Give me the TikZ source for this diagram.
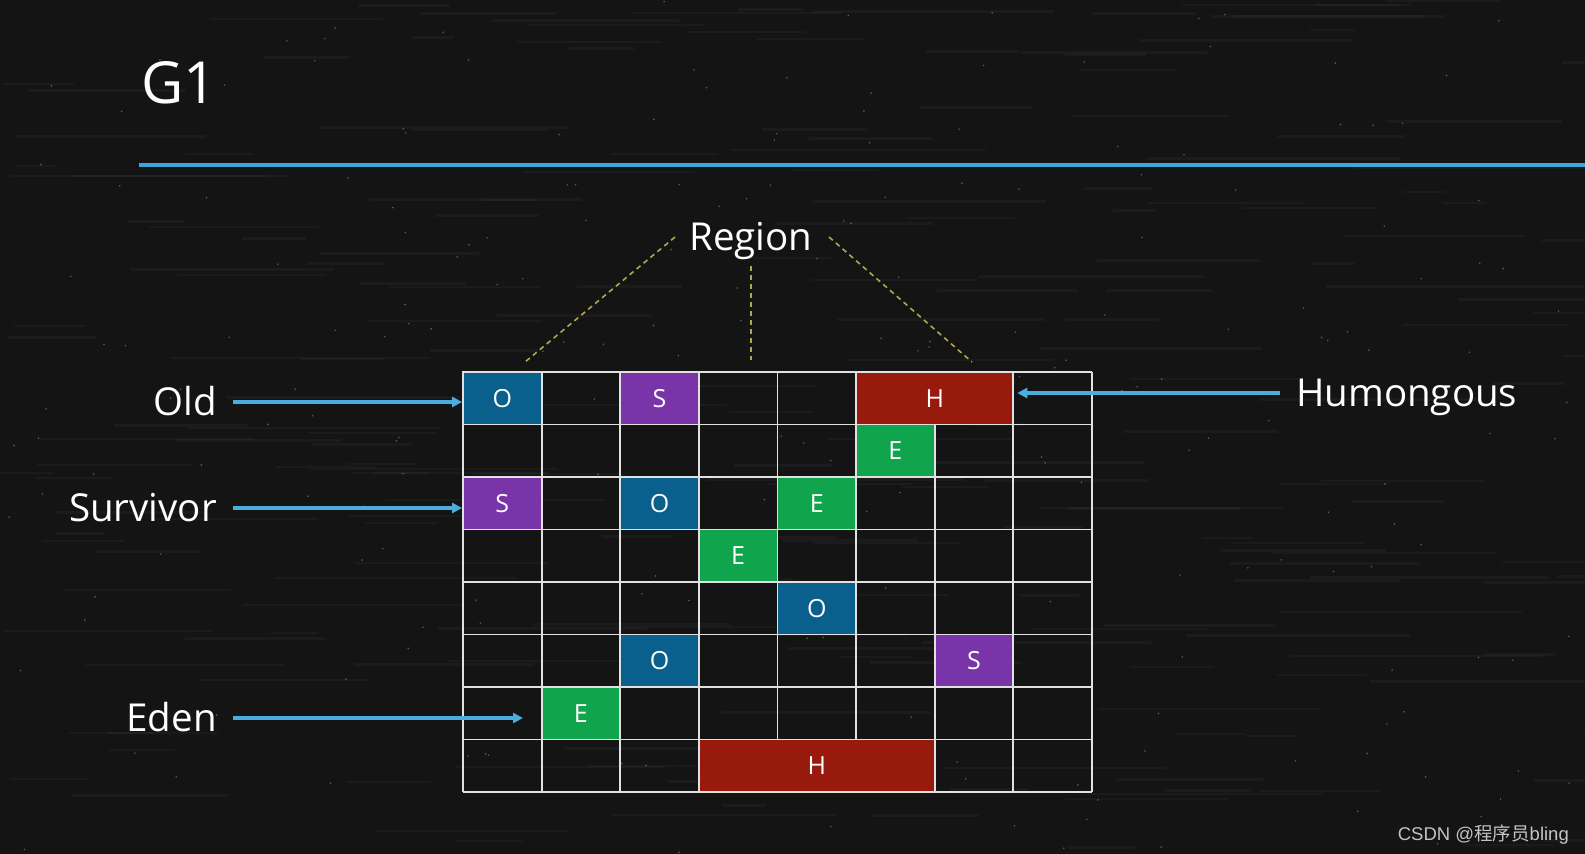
\documentclass[tikz,border=0pt]{standalone}
\usepackage{fontspec}
\setmainfont{Open Sans}
\newfontfamily\cjkfont{Noto Sans CJK SC}
\newfontfamily\wmfont{Liberation Sans}
\usetikzlibrary{arrows.meta}
\definecolor{bgc}{RGB}{20,20,20}
\definecolor{lineblue}{RGB}{58,168,218}
\definecolor{arrblue}{RGB}{75,172,222}
\definecolor{dashc}{RGB}{172,168,78}
\definecolor{gridc}{RGB}{225,225,225}
\definecolor{colO}{RGB}{10,96,140}
\definecolor{colS}{RGB}{122,52,170}
\definecolor{colE}{RGB}{16,164,76}
\definecolor{colH}{RGB}{152,26,12}
\definecolor{wmc}{RGB}{195,195,195}
\tikzset{
  regbase/.style={rectangle, inner sep=0pt, minimum height=52.5pt, text=white, draw=gridc, line width=1.8pt, font=\fontsize{25}{28}\selectfont},
  regO/.style={regbase, fill=colO},
  regS/.style={regbase, fill=colS},
  regE/.style={regbase, fill=colE},
  regH/.style={regbase, fill=colH},
  lbl/.style={text=white, inner sep=0pt, font=\fontsize{38.5}{44}\selectfont},
  arr/.style={draw=arrblue, line width=3.2pt, -{Triangle[length=10pt,width=10pt]}},
  gline/.style={draw=gridc, line width=1.8pt},
  rdash/.style={draw=dashc, line width=1.6pt, dash pattern=on 5pt off 4pt}
}
\begin{document}
\begin{tikzpicture}[x=1pt,y=-1pt]
\fill[bgc] (0,0) rectangle (1585,854);
\useasboundingbox (0,0) rectangle (1585,854);
% chalk texture
\pgfmathsetseed{11}
\foreach \i in {1,...,220}{
  \pgfmathsetmacro\yy{rnd*854}
  \pgfmathsetmacro\xx{rnd*1585}
  \pgfmathsetmacro\ll{40+rnd*220}
  \draw[white, opacity=0.03, line width=2.5pt] (\xx,\yy) -- ++(\ll,0);
}
\foreach \i in {1,...,220}{
  \fill[white, opacity=0.3] ({rnd*1585},{rnd*854}) circle (0.9);
}
% title and rule
\node[text=white, inner sep=0pt, anchor=base west, font=\fontsize{58}{64}\selectfont] (g1) at (141,103) {G1};
\coordinate (ruleL) at (139,165);
\coordinate (ruleR) at (1585,165);
\draw[lineblue, line width=4pt] (ruleL) -- (ruleR);
% grid
\foreach \k in {0,...,8}{
  \draw[gline] ({463+\k*78.625},372) -- ({463+\k*78.625},792);
  \draw[gline] (463,{372+\k*52.5}) -- (1092,{372+\k*52.5});
}
% regions
\foreach \n/\c/\r/\w/\s/\t in {
  o1/0/0/1/regO/O, s1/2/0/1/regS/S, h1/5/0/2/regH/H,
  e1/5/1/1/regE/E,
  s2/0/2/1/regS/S, o2/2/2/1/regO/O, e2/4/2/1/regE/E,
  e3/3/3/1/regE/E,
  o3/4/4/1/regO/O,
  o4/2/5/1/regO/O, s3/6/5/1/regS/S,
  e4/1/6/1/regE/E,
  h2/3/7/3/regH/H}{
  \node[\s, minimum width={\w*78.625pt}] (\n) at ({463+(\c+\w/2)*78.625},{372+(\r+0.5)*52.5}) {\t};
}
% Region label and dashed lines
\node[lbl, anchor=base] (region) at (751,250) {Region};
\coordinate (dl1) at (675,237);
\coordinate (dl2) at (525,362);
\coordinate (dm1) at (751,266);
\coordinate (dm2) at (751,360);
\coordinate (dr1) at (829,237);
\coordinate (dr2) at (972,362);
\draw[rdash] (dl1) -- (dl2);
\draw[rdash] (dm1) -- (dm2);
\draw[rdash] (dr1) -- (dr2);
% left labels
\node[lbl, anchor=base east] (old) at (217,415) {Old};
\node[lbl, anchor=base east] (surv) at (217,521) {Survivor};
\node[lbl, anchor=base east] (eden) at (217,731) {Eden};
\node[lbl, anchor=base west] (hum) at (1296,406) {Humongous};
\coordinate (edenEnd) at (523,718);
\draw[arr] (233,402) -- (o1.west |- 0,402);
\draw[arr] (233,508) -- (s2.west |- 0,508);
\draw[arr] (233,718) -- (edenEnd);
\draw[arr] (1280,393) -- ([xshift=3pt]h1.east |- 0,393);
% watermark
\node[text=wmc, inner sep=0pt, anchor=base east, font=\fontsize{18.5}{20}\selectfont] (wm) at (1569,840) {\wmfont CSDN @\cjkfont 程序员\wmfont bling};
\end{tikzpicture}
\end{document}
